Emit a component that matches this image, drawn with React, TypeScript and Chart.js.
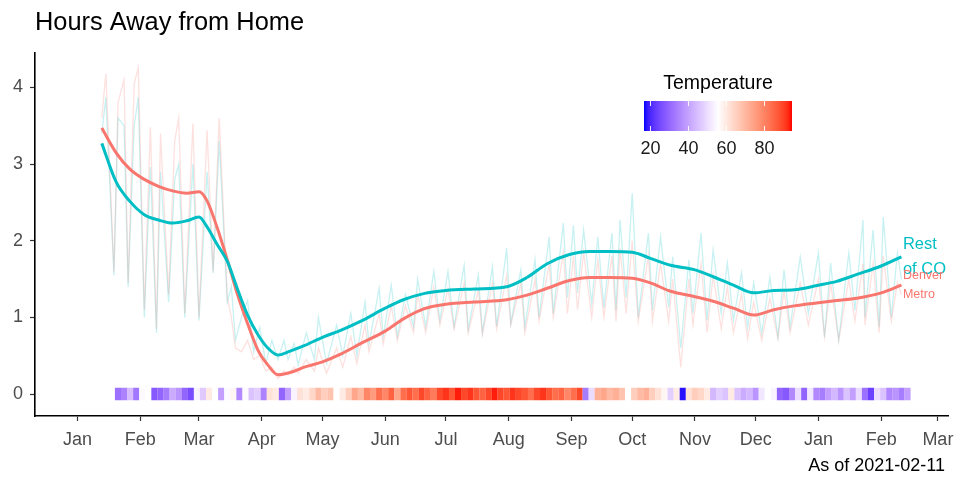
import { useEffect, useRef } from "react";
import { Chart, registerables } from "chart.js";
Chart.register(...registerables);

const FONT = '"Liberation Sans", Arial, Helvetica, sans-serif';

// ---- data ----
const smoothDates = ["2020-01-13","2020-01-20","2020-01-27","2020-02-03","2020-02-10","2020-02-17","2020-02-24","2020-03-01","2020-03-05","2020-03-10","2020-03-15","2020-03-20","2020-03-25","2020-03-30","2020-04-04","2020-04-09","2020-04-15","2020-04-22","2020-05-01","2020-05-10","2020-05-20","2020-06-01","2020-06-10","2020-06-20","2020-07-01","2020-07-15","2020-07-31","2020-08-10","2020-08-20","2020-08-31","2020-09-10","2020-09-20","2020-10-01","2020-10-10","2020-10-20","2020-11-01","2020-11-10","2020-11-20","2020-11-30","2020-12-10","2020-12-20","2021-01-01","2021-01-10","2021-01-20","2021-02-01","2021-02-11"];
const restSmooth = [3.27,2.77,2.51,2.34,2.27,2.23,2.26,2.31,2.18,1.95,1.73,1.37,1.03,0.78,0.60,0.51,0.56,0.63,0.74,0.83,0.95,1.12,1.23,1.31,1.35,1.37,1.40,1.52,1.70,1.82,1.86,1.86,1.85,1.77,1.68,1.62,1.53,1.42,1.32,1.35,1.36,1.42,1.47,1.56,1.67,1.79];
const denverSmooth = [3.47,3.15,2.93,2.80,2.71,2.65,2.62,2.64,2.52,2.17,1.75,1.30,0.92,0.58,0.38,0.25,0.28,0.35,0.42,0.52,0.66,0.82,0.98,1.11,1.17,1.20,1.23,1.29,1.38,1.48,1.52,1.52,1.51,1.45,1.34,1.27,1.21,1.12,1.03,1.10,1.15,1.19,1.22,1.25,1.32,1.42];

const dailyDates = ["2020-01-13","2020-01-15","2020-01-19","2020-01-21","2020-01-24","2020-01-26","2020-01-29","2020-01-31","2020-02-03","2020-02-06","2020-02-09","2020-02-11","2020-02-15","2020-02-18","2020-02-20","2020-02-23","2020-02-27","2020-03-01","2020-03-05","2020-03-08","2020-03-11","2020-03-15","2020-03-17","2020-03-19","2020-03-22","2020-03-25","2020-03-28","2020-03-31","2020-04-03","2020-04-06","2020-04-09","2020-04-12","2020-04-14","2020-04-17","2020-04-19","2020-04-23","2020-04-27","2020-04-29","2020-05-03","2020-05-08","2020-05-11","2020-05-15","2020-05-18","2020-05-22","2020-05-24","2020-05-29","2020-05-31","2020-06-04","2020-06-07","2020-06-11","2020-06-15","2020-06-17","2020-06-21","2020-06-25","2020-06-28","2020-07-02","2020-07-05","2020-07-10","2020-07-12","2020-07-17","2020-07-19","2020-07-24","2020-07-26","2020-07-31","2020-08-02","2020-08-07","2020-08-09","2020-08-14","2020-08-16","2020-08-21","2020-08-23","2020-08-28","2020-08-30","2020-09-02","2020-09-04","2020-09-07","2020-09-11","2020-09-14","2020-09-17","2020-09-21","2020-09-23","2020-09-25","2020-09-28","2020-10-01","2020-10-04","2020-10-09","2020-10-11","2020-10-15","2020-10-19","2020-10-21","2020-10-25","2020-10-29","2020-10-31","2020-11-04","2020-11-07","2020-11-10","2020-11-14","2020-11-17","2020-11-20","2020-11-24","2020-11-27","2020-11-30","2020-12-04","2020-12-08","2020-12-12","2020-12-15","2020-12-18","2020-12-23","2020-12-27","2021-01-01","2021-01-04","2021-01-07","2021-01-11","2021-01-16","2021-01-19","2021-01-23","2021-01-24","2021-01-28","2021-01-31","2021-02-02","2021-02-06","2021-02-09","2021-02-11"];
const restDaily = [3.40,3.87,1.55,3.60,3.50,1.40,3.50,3.87,1.00,2.96,0.80,2.90,1.20,2.80,3.00,1.00,3.00,0.96,2.90,1.58,3.30,1.20,1.40,0.70,1.00,1.22,0.55,0.87,0.40,0.70,0.45,0.70,0.45,0.66,0.38,0.80,0.45,1.00,0.40,0.90,0.50,1.05,0.50,1.20,0.65,1.38,0.75,1.42,0.75,1.30,0.88,1.50,0.88,1.60,0.96,1.60,0.88,1.68,0.84,1.55,0.80,1.66,0.88,1.90,0.92,1.62,0.88,1.75,1.00,2.05,1.05,2.23,1.26,2.20,1.32,2.14,1.18,2.05,1.13,2.10,1.09,2.27,1.26,2.62,1.00,2.10,1.09,2.05,1.13,1.79,0.60,1.75,1.05,2.10,0.96,1.88,1.05,1.71,0.96,1.58,0.87,1.45,0.79,1.52,0.74,1.62,0.87,1.79,1.05,1.84,0.74,1.71,0.70,1.84,1.09,2.27,1.00,2.14,0.87,2.31,1.00,1.84,1.50];
const denverDaily = [3.60,4.18,1.60,3.80,4.10,1.45,4.05,4.26,1.10,3.48,0.85,3.40,1.30,3.30,3.60,1.05,3.53,1.00,3.44,1.60,3.60,1.25,1.00,0.60,0.55,0.70,0.45,0.50,0.30,0.35,0.20,0.30,0.25,0.35,0.27,0.45,0.30,0.60,0.27,0.60,0.35,0.75,0.40,0.90,0.55,1.05,0.65,1.15,0.70,1.15,0.80,1.30,0.80,1.40,0.90,1.38,0.85,1.45,0.80,1.35,0.78,1.45,0.85,1.55,0.90,1.45,0.80,1.50,0.95,1.70,1.00,1.85,1.05,1.80,1.10,1.85,1.00,1.75,1.00,1.80,0.95,1.90,1.05,2.00,0.95,1.80,0.95,1.70,0.95,1.50,0.35,1.50,0.90,1.70,0.80,1.55,0.85,1.40,0.80,1.30,0.72,1.20,0.70,1.25,0.72,1.35,0.80,1.45,0.90,1.50,0.75,1.45,0.70,1.50,0.95,1.70,0.90,1.70,0.80,1.80,0.95,1.45,1.30];

// daily temperature (°F), one entry every 3 days from the start date
const tempStart = "2020-01-21";
const tempStepDays = 3;
const temperature = [32,35,45,33,55,56,28,30,34,42,38,30,26,54,47,60,56,40,55,58,36,55,46,48,35,62,60,30,40,54,62,60,64,70,66,68,56,60,66,74,70,80,76,84,80,86,74,84,88,84,90,86,82,90,92,88,94,90,92,88,86,90,94,90,88,92,90,88,84,90,92,88,84,86,80,84,90,34,50,72,74,70,72,68,56,66,70,72,66,62,58,48,60,18,62,66,64,60,44,48,46,60,46,42,44,38,52,56,54,30,28,36,50,30,52,36,34,40,44,38,46,40,50,32,24,50,46,36,38,34,40];

const monthTicks = ["2020-01-01","2020-02-01","2020-03-01","2020-04-01","2020-05-01","2020-06-01","2020-07-01","2020-08-01","2020-09-01","2020-10-01","2020-11-01","2020-12-01","2021-01-01","2021-02-01","2021-03-01"];
const monthLabels = ["Jan","Feb","Mar","Apr","May","Jun","Jul","Aug","Sep","Oct","Nov","Dec","Jan","Feb","Mar"];
const yTicks = [0, 1, 2, 3, 4];
const legendTicks = [20, 40, 60, 80];
const tempLimits = [17, 95];
const tempMid = 56;

const xRange = ["2019-12-11", "2021-03-06"];
const yRange = [-0.287, 4.456];

// ---- helpers ----
const DAY = 86400000;
const BASE = Date.UTC(2020, 0, 1);
const toDay = (s: string) => (Date.parse(s + "T00:00:00Z") - BASE) / DAY;

const toLin = (c: number) => { c /= 255; return c <= 0.04045 ? c / 12.92 : Math.pow((c + 0.055) / 1.055, 2.4); };
const fromLin = (c: number) => { const v = c <= 0.0031308 ? 12.92 * c : 1.055 * Math.pow(c, 1 / 2.4) - 0.055; return Math.round(Math.min(1, Math.max(0, v)) * 255); };
function rgb2lab([r, g, b]: number[]) {
  const R = toLin(r), G = toLin(g), B = toLin(b);
  const X = (0.4124564 * R + 0.3575761 * G + 0.1804375 * B) / 0.95047;
  const Y = 0.2126729 * R + 0.7151522 * G + 0.072175 * B;
  const Z = (0.0193339 * R + 0.119192 * G + 0.9503041 * B) / 1.08883;
  const f = (t: number) => (t > 0.008856 ? Math.cbrt(t) : 7.787 * t + 16 / 116);
  const fx = f(X), fy = f(Y), fz = f(Z);
  return [116 * fy - 16, 500 * (fx - fy), 200 * (fy - fz)];
}
function lab2rgb([L, a, b]: number[]) {
  const fy = (L + 16) / 116, fx = fy + a / 500, fz = fy - b / 200;
  const inv = (t: number) => { const t3 = t * t * t; return t3 > 0.008856 ? t3 : (t - 16 / 116) / 7.787; };
  const X = inv(fx) * 0.95047, Y = inv(fy), Z = inv(fz) * 1.08883;
  const R = 3.2404542 * X - 1.5371385 * Y - 0.4985314 * Z;
  const G = -0.969266 * X + 1.8760108 * Y + 0.041556 * Z;
  const B = 0.0556434 * X - 0.2040259 * Y + 1.0572252 * Z;
  return [fromLin(R), fromLin(G), fromLin(B)];
}
const LOW = rgb2lab([0, 0, 255]), MID = rgb2lab([255, 255, 255]), HIGH = rgb2lab([255, 0, 0]);
function tempColor(t: number) {
  const maxd = Math.max(tempMid - tempLimits[0], tempLimits[1] - tempMid);
  let u = (t - tempMid) / (2 * maxd) + 0.5;
  u = Math.min(1, Math.max(0, u));
  const [a, b, k] = u < 0.5 ? [LOW, MID, u / 0.5] : [MID, HIGH, (u - 0.5) / 0.5];
  const lab = a.map((v, i) => v + (b[i] - v) * k);
  const [r, g, bb] = lab2rgb(lab);
  return `rgb(${r},${g},${bb})`;
}

const TEAL = "#00BFC4";
const SALMON = "#F8766D";

const annotations = {
  id: "annotations",
  afterDatasetsDraw(chart: any) {
    const { ctx } = chart;
    const drawLabel = (idx: number, lines: string[], color: string, size: number, gap: number) => {
      const meta = chart.getDatasetMeta(idx);
      const pt = meta.data[meta.data.length - 1];
      ctx.save();
      ctx.fillStyle = color;
      ctx.font = `${size}px ${FONT}`;
      ctx.textBaseline = "middle";
      ctx.textAlign = "left";
      lines.forEach((l, i) => ctx.fillText(l, pt.x + 1.5, pt.y + (i - (lines.length - 1) / 2) * gap));
      ctx.restore();
    };
    drawLabel(0, ["Rest", "of CO"], TEAL, 16.5, 24.5);
    drawLabel(1, ["Denver", "Metro"], SALMON, 12.5, 19);
  },
  afterDraw(chart: any) {
    const { ctx, chartArea } = chart;
    const bx = 644, by = 101, bw = 148, bh = 30;
    ctx.save();
    const grad = ctx.createLinearGradient(bx, 0, bx + bw, 0);
    for (let i = 0; i <= 40; i++) {
      const t = tempLimits[0] + ((tempLimits[1] - tempLimits[0]) * i) / 40;
      grad.addColorStop(i / 40, tempColor(t));
    }
    ctx.fillStyle = grad;
    ctx.fillRect(bx, by, bw, bh);
    ctx.strokeStyle = "rgba(255,255,255,0.9)";
    ctx.lineWidth = 1;
    ctx.fillStyle = "#1a1a1a";
    ctx.font = `18px ${FONT}`;
    ctx.textAlign = "center";
    ctx.textBaseline = "alphabetic";
    legendTicks.forEach((t) => {
      const x = Math.round(bx + ((t - tempLimits[0]) / (tempLimits[1] - tempLimits[0])) * bw) + 0.5;
      ctx.beginPath();
      ctx.moveTo(x, by); ctx.lineTo(x, by + 5);
      ctx.moveTo(x, by + bh - 5); ctx.lineTo(x, by + bh);
      ctx.stroke();
      ctx.fillText(String(t), x, 154);
    });
    ctx.fillStyle = "#000";
    ctx.font = `19.5px ${FONT}`;
    ctx.fillText("Temperature", bx + bw / 2, 89);
    // caption
    ctx.font = `18px ${FONT}`;
    ctx.textAlign = "right";
    ctx.textBaseline = "middle";
    ctx.fillText("As of 2021-02-11", chartArea.right - 3, 466);
    ctx.restore();
  },
};

export default function App() {
  const ref = useRef<HTMLCanvasElement>(null);
  useEffect(() => {
    document.body.style.margin = "0";
    const tickColor = "#4D4D4D";
    const chart = new Chart(ref.current as HTMLCanvasElement, {
      type: "line",
      data: {
        datasets: [
          {
            label: "Rest of CO",
            data: smoothDates.map((d, i) => ({ x: toDay(d), y: restSmooth[i] })),
            borderColor: TEAL, borderWidth: 3, pointRadius: 0, cubicInterpolationMode: "monotone",
          },
          {
            label: "Denver Metro",
            data: smoothDates.map((d, i) => ({ x: toDay(d), y: denverSmooth[i] })),
            borderColor: SALMON, borderWidth: 3, pointRadius: 0, cubicInterpolationMode: "monotone",
          },
          {
            type: "bar",
            label: "Temperature",
            data: temperature.map((_, i) => ({ x: toDay(tempStart) + i * tempStepDays, y: [-0.08, 0.08] })),
            backgroundColor: temperature.map(tempColor),
            borderWidth: 0, barPercentage: 1.02, categoryPercentage: 1,
          } as any,
          {
            label: "Denver daily",
            data: dailyDates.map((d, i) => ({ x: toDay(d), y: denverDaily[i] })),
            borderColor: "rgba(248,118,109,0.22)", borderWidth: 1.3, pointRadius: 0, tension: 0,
          },
          {
            label: "Rest daily",
            data: dailyDates.map((d, i) => ({ x: toDay(d), y: restDaily[i] })),
            borderColor: "rgba(0,191,196,0.22)", borderWidth: 1.3, pointRadius: 0, tension: 0,
          },
        ],
      },
      options: {
        animation: false,
        responsive: true,
        maintainAspectRatio: false,
        layout: { padding: { right: 8, left: 0, bottom: 25 } },
        plugins: {
          legend: { display: false },
          tooltip: { enabled: false },
          title: {
            display: true, text: "Hours Away from Home", align: "start", fullSize: false,
            color: "#000", font: { family: FONT, size: 25.4, weight: "normal" }, padding: { top: 8, bottom: 14 },
          },
        },
        scales: {
          x: {
            type: "linear",
            min: toDay(xRange[0]), max: toDay(xRange[1]),
            offset: false,
            afterBuildTicks: (scale: any) => { scale.ticks = monthTicks.map((d) => ({ value: toDay(d) })); },
            afterFit: (scale: any) => { scale.height = 37; scale.paddingLeft = 0; scale.paddingRight = 0; },
            ticks: {
              autoSkip: false, maxRotation: 0, color: tickColor, padding: 8,
              font: { family: FONT, size: 18 },
              callback: (_v: any, i: number) => monthLabels[i],
            },
            grid: { offset: false, drawOnChartArea: false, drawTicks: true, tickLength: 5, color: "#333", tickWidth: 1.2 },
            border: { display: true, color: "#000", width: 1.6 },
          },
          y: {
            type: "linear",
            min: yRange[0], max: yRange[1],
            afterBuildTicks: (scale: any) => { scale.ticks = yTicks.map((v) => ({ value: v })); },
            afterFit: (scale: any) => { scale.width = 35; },
            ticks: { color: tickColor, padding: 7, font: { family: FONT, size: 18 } },
            grid: { drawOnChartArea: false, drawTicks: true, tickLength: 5, color: "#333", tickWidth: 1.2 },
            border: { display: true, color: "#000", width: 1.6 },
          },
        },
      } as any,
      plugins: [annotations],
    });
    return () => chart.destroy();
  }, []);
  return (
    <div style={{ width: 956, height: 478, position: "relative" }}>
      <canvas ref={ref} />
    </div>
  );
}
